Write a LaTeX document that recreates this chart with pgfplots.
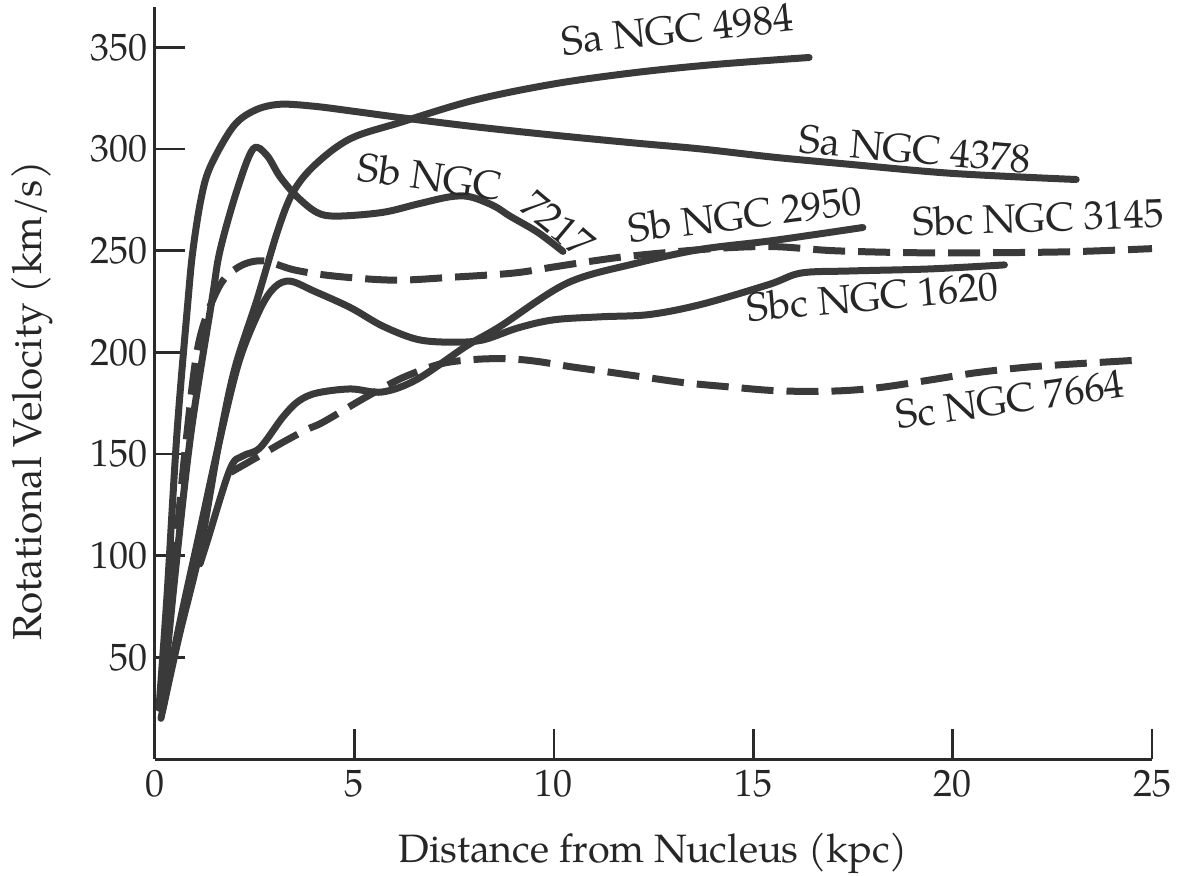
\documentclass[border=0pt]{standalone}
\usepackage{pgfplots}
\pgfplotsset{compat=1.18}
\usepackage{fontspec}
\setmainfont{TeX Gyre Pagella}
\definecolor{ink}{HTML}{3A3A3A}
\definecolor{axisink}{HTML}{2A2A2A}

\pgfplotsset{
    curve/.style={ink, line width=3.5pt, smooth, tension=0.55, line cap=round, line join=round},
    dcurve/.style={ink, line width=3.5pt, smooth, tension=0.55, dash pattern=on 16pt off 6.5pt},
}

\begin{document}
\begin{tikzpicture}
\begin{axis}[
    x=19.94pt, y=1.01667pt,
    xmin=0, xmax=25, ymin=0, ymax=370,
    axis x line=bottom, axis y line=left,
    axis line style={-, axisink, line width=1.5pt},
    xtick={0,5,...,25}, ytick={50,100,...,350},
    tick align=inside, major tick length=15pt,
    tick style={axisink, line width=1.3pt},
    /pgf/number format/assume math mode=true,
    tick label style={font=\fontsize{19}{23}\selectfont, text=black!85},
    xticklabel style={yshift=-2pt},
    xlabel={Distance from Nucleus (kpc)},
    ylabel={Rotational Velocity (km/s)},
    every axis x label/.style={at={(axis description cs:0.5,0)}, anchor=base, yshift=-51.5pt,
        font=\fontsize{19.8}{24}\selectfont, text=black!85},
    every axis y label/.style={at={(axis description cs:-0.1235,0.476)}, rotate=90, anchor=center,
        font=\fontsize{20.2}{24}\selectfont, text=black!85},
    clip=false,
]
% Sa NGC 4378
\addplot[curve] coordinates {(0.1,25) (0.3,80) (0.55,160) (0.83,226) (0.95,250) (1.15,275) (1.38,291) (1.96,311) (2.5,319) (3.13,322) (4,321) (5,318.5) (6.1,315.6) (8,311) (9.9,307) (12,303) (13.7,300) (15.5,296) (17.4,292.5) (20,288) (23.1,285)};
% Sb NGC 7217
\addplot[curve] coordinates {(0.2,30) (0.5,90) (0.9,160) (1.43,226) (1.63,250) (2.06,280) (2.46,300) (2.8,297) (3.13,286.5) (3.55,276.8) (4.06,268.8) (4.56,267) (5.7,268.8) (6.6,273) (7.4,276.5) (7.9,276.5) (8.5,272) (8.9,267) (9.6,259) (10.23,249.6)};
% Sa NGC 4984
\addplot[curve] coordinates {(0.15,20) (0.6,60) (1.13,103) (1.6,155) (2.0,192) (2.56,226) (3.08,260) (3.46,278.7) (4,292) (4.89,305) (6.14,313) (8,324) (10,332) (12,337.5) (14,341.5) (16.4,345)};
% Sbc NGC 1620
\addplot[curve] coordinates {(0.2,25) (0.6,65) (1.1,110) (1.6,155) (2.1,195) (2.63,221) (3.0,232) (3.39,235) (4.0,230) (4.9,222) (5.7,213) (6.57,206.4) (7.4,205) (8.2,206) (9.1,212) (10,216) (11.2,217.5) (12.4,218.6) (13.7,223.6) (15.4,233.4) (16.2,239) (17.4,240) (19.4,241) (21.3,243)};
% Sb NGC 2950
\addplot[curve] coordinates {(1.13,96) (1.3,106.5) (1.88,142.5) (2.2,149) (2.63,153) (3.2,168) (3.6,176) (4.06,180) (4.9,182) (5.7,180.5) (6.57,186.7) (7.8,203) (8.65,212.7) (10.33,234) (12,243.5) (13.67,250.6) (15.5,255) (17.75,261.4)};
% Sbc NGC 3145
\addplot[dcurve] coordinates {(0.15,25) (0.5,100) (0.8,160) (1.1,205) (1.6,232) (2.1,242) (2.7,245) (3.5,240.5) (4.5,237.5) (6,235.5) (7.5,237) (9,239) (10,242) (11,245) (12,247.5) (14,251) (15.5,252) (17,250) (19,249) (21,249) (23,249.5) (25,251)};
% Sc NGC 7664
\addplot[dcurve] coordinates {(1.9,141) (2.7,150) (3.2,155.7) (3.8,162) (4.2,165.5) (5.06,175.4) (5.64,181.8) (6.3,188.3) (7.2,194.5) (8.1,196.6) (8.9,196.8) (9.6,195.5) (10.4,193) (11.2,190.8) (12.2,188) (13.3,185) (14.4,183) (15.5,181.2) (16.5,180.8) (17.4,181.3) (18.3,183) (19.5,186.6) (20.6,190) (21.8,192.6) (22.8,194) (24.5,196)};

\begin{scope}[every node/.style={font=\fontsize{20}{24}\selectfont, text=black!85, inner sep=0pt}]
\node[rotate=6] at (axis cs:13.1,358.9) {Sa NGC 4984};
\node[rotate=-5] at (axis cs:19.06,299.9) {Sa NGC 4378};
\node[rotate=-8] at (axis cs:6.9,286.5) {Sb NGC};
\node[rotate=-40] at (axis cs:10.1,263) {7217};
\node[rotate=7] at (axis cs:14.8,267.9) {Sb NGC 2950};
\node[rotate=2] at (axis cs:22.15,266.4) {Sbc NGC 3145};
\node[rotate=5] at (axis cs:18.0,227.6) {Sbc NGC 1620};
\node[rotate=8] at (axis cs:21.44,176.9) {Sc NGC 7664};
\end{scope}
\end{axis}
\pgfresetboundingbox
\path (-77.5pt,-58pt) rectangle (514pt,379.5pt);
\end{tikzpicture}
\end{document}
